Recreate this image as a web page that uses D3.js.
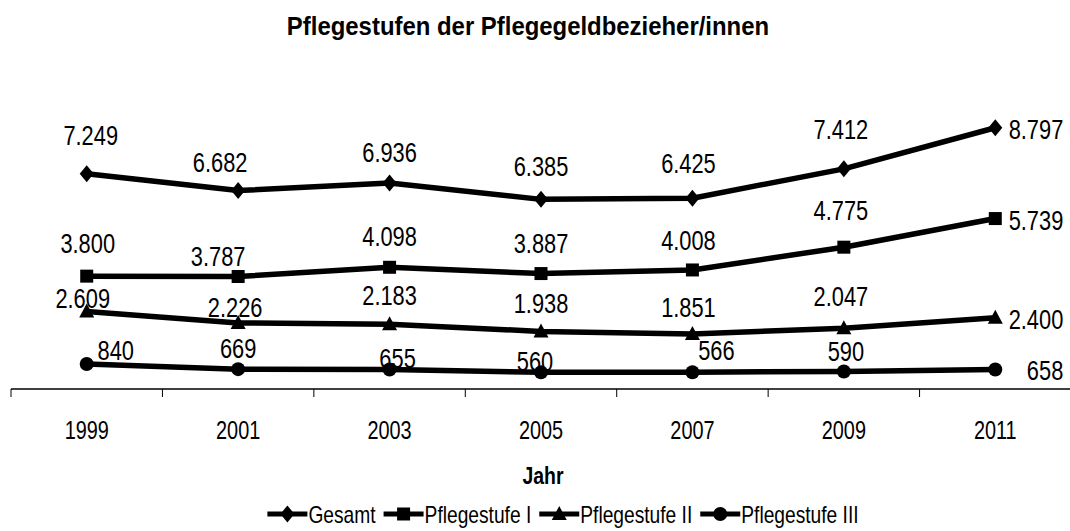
<!DOCTYPE html>
<html>
<head>
<meta charset="utf-8">
<script src="https://cdn.jsdelivr.net/npm/d3@7"></script>
<style>
  body { margin: 0; background: #fff; }
  text { fill: #000; font-family: "Liberation Sans", Arial, sans-serif; }
  .bold { font-weight: bold; }
</style>
</head>
<body>
<script>
// data
const years = ["1999", "2001", "2003", "2005", "2007", "2009", "2011"];
const gesamt = [7249, 6682, 6936, 6385, 6425, 7412, 8797];
const stufe1 = [3800, 3787, 4098, 3887, 4008, 4775, 5739];
const stufe2 = [2609, 2226, 2183, 1938, 1851, 2047, 2400];
const stufe3 = [840, 669, 655, 560, 566, 590, 658];
const seriesNames = ["Gesamt", "Pflegestufe I", "Pflegestufe II", "Pflegestufe III"];
const markerTypes = ["diamond", "square", "triangle", "circle"];

// label nudges [dx, dy] relative to the point (last one sits to the right)
const nudgeGesamt = [[4, -29], [-18, -19], [0, -21], [0, -23], [-4, -25], [-3, -30]];
const nudgeStufe1 = [[1, -23], [-20, -11], [0, -21], [0, -21], [-4, -20], [-3, -27]];
const nudgeStufe2 = [[-4, -4], [-3, -6], [0, -19], [0, -18], [-4, -17], [-3, -22]];
const nudgeStufe3 = [[29, -4], [0, -11], [8, -2], [-6, -1], [24, -12], [2, -10]];

const width = 1070, height = 531;
const svg = d3.select("body").append("svg")
    .attr("width", width).attr("height", height);

const x = d3.scaleBand().domain(years).range([11, 1071]);
const y = d3.scaleLinear().domain([0, 10000]).range([389, 92]);
const cx = function(d){ return x(d) + x.bandwidth() / 2; };

//Arial Narrow is not around, so squeeze Liberation Sans sideways
function placeText(sel, px, py, sx){
    sel.attr("transform", "translate(" + px + "," + py + ") scale(" + sx + ",1)");
    return sel;
}

//title
placeText(svg.append("text").attr("class", "bold")
    .attr("text-anchor", "middle")
    .style("font-size", "26px")
    .text("Pflegestufen der Pflegegeldbezieher/innen"), 528, 35, 0.92);

//x axis: line + ticks on the band edges
const axis = svg.append("g").attr("transform", "translate(0,389)");
axis.call(d3.axisBottom(x).tickSize(0).tickFormat(""));
axis.select(".domain").attr("d", "M11,0H1071").attr("stroke", "#000").attr("stroke-width", 1.3);
axis.selectAll(".edge").data(years.concat(["end"])).enter().append("line")
    .attr("x1", function(d){ return d === "end" ? x.range()[1] : x(d); })
    .attr("x2", function(d){ return d === "end" ? x.range()[1] : x(d); })
    .attr("y1", 0).attr("y2", 8)
    .attr("stroke", "#000").attr("stroke-width", 1);
axis.selectAll(".yr").data(years).enter().append("text")
    .attr("text-anchor", "middle")
    .style("font-size", "26.5px")
    .attr("transform", function(d){ return "translate(" + cx(d) + ",50) scale(0.75,1)"; })
    .text(function(d){ return d; });

placeText(svg.append("text").attr("class", "bold")
    .attr("text-anchor", "middle")
    .style("font-size", "24px")
    .text("Jahr"), 543, 484, 0.81);

//marker shapes
function markerPath(type){
    const p = d3.path();
    if (type === "diamond"){
        p.moveTo(0, -8.5); p.lineTo(7, 0); p.lineTo(0, 8.5); p.lineTo(-7, 0); p.closePath();
    } else if (type === "square"){
        p.rect(-6.5, -6.5, 13, 13);
    } else if (type === "triangle"){
        p.moveTo(0, -8); p.lineTo(7.5, 6); p.lineTo(-7.5, 6); p.closePath();
    } else {
        p.arc(0, 0, 7, 0, 2 * Math.PI);
    }
    return p.toString();
}

const fmt = d3.formatLocale({decimal: ",", thousands: ".", grouping: [3], currency: ["", "€"]}).format(",d");
const allValues = [gesamt, stufe1, stufe2, stufe3];
const allNudges = [nudgeGesamt, nudgeStufe1, nudgeStufe2, nudgeStufe3];

const line = d3.line()
    .x(function(d, i){ return cx(years[i]); })
    .y(function(d){ return y(d); });

allValues.forEach(function(values, s){
    const g = svg.append("g");
    const last = values.length - 1;
    g.append("path").attr("d", line(values))
        .attr("fill", "none").attr("stroke", "#000")
        .attr("stroke-width", 5.5).attr("stroke-linejoin", "round");
    g.selectAll("path.mk").data(values).enter().append("path")
        .attr("class", "mk")
        .attr("d", markerPath(markerTypes[s]))
        .attr("transform", function(d, i){ return "translate(" + cx(years[i]) + "," + y(d) + ")"; });
    //value labels, the 2011 one goes to the right of the point
    g.selectAll("text").data(values).enter().append("text")
        .style("font-size", "28px")
        .attr("text-anchor", function(d, i){ return i === last ? "end" : "middle"; })
        .attr("transform", function(d, i){
            const px = i === last ? cx(years[i]) + 68 : cx(years[i]) + allNudges[s][i][0];
            const py = i === last ? y(d) + 11 : y(d) + allNudges[s][i][1];
            return "translate(" + px + "," + py + ") scale(0.78,1)";
        })
        .text(function(d){ return fmt(d); });
});

//legend
const legend = svg.append("g");
let lx = 0;
seriesNames.forEach(function(name, s){
    const item = legend.append("g").attr("transform", "translate(" + lx + ",0)");
    item.append("line").attr("x1", 0).attr("x2", 40).attr("y1", 0).attr("y2", 0)
        .attr("stroke", "#000").attr("stroke-width", 5);
    item.append("path").attr("d", markerPath(markerTypes[s]))
        .attr("transform", "translate(20,0)");
    const t = placeText(item.append("text")
        .style("font-size", "24px")
        .text(name), 41, 9, 0.8);
    lx += 41 + t.node().getComputedTextLength() * 0.8 + 8;
});
legend.attr("transform", "translate(" + (563 - (lx - 8) / 2) + ",514)");
</script>
</body>
</html>
